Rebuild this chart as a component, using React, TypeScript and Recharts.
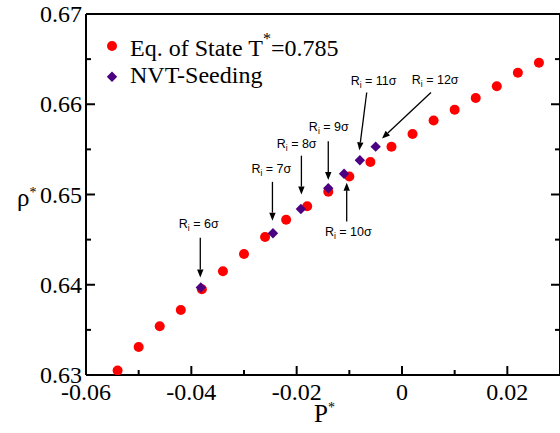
import React from 'react';
import {
  ScatterChart,
  Scatter,
  XAxis,
  YAxis,
  ReferenceLine,
  ReferenceDot,
  Legend,
} from 'recharts';

// equation of state, T* = 0.785
const eosP = [-0.054, -0.05, -0.046, -0.042, -0.038, -0.034, -0.03, -0.026, -0.022, -0.018, -0.014,
  -0.01, -0.006, -0.002, 0.002, 0.006, 0.01, 0.014, 0.018, 0.022, 0.026];
const eosRho = [0.6305, 0.6331, 0.6354, 0.6372, 0.6395, 0.6415, 0.6434, 0.6453, 0.6472, 0.6487, 0.6503,
  0.652, 0.6536, 0.6553, 0.6567, 0.6582, 0.6594, 0.6607, 0.662, 0.6635, 0.6646];

// NVT seeding runs, one per cluster radius
const seedR = [6, 7, 8, 9, 10, 11, 12];
const seedP = [-0.0382, -0.0245, -0.0192, -0.014, -0.011, -0.008, -0.005];
const seedRho = [0.6397, 0.6457, 0.6484, 0.6507, 0.6523, 0.6538, 0.6553];

// annotation label anchors and arrows, in data units
const labelP = [-0.0386, -0.0248, -0.02, -0.0139, -0.0102, -0.0054, 0.0063];
const labelRho = [0.6463, 0.6524, 0.6552, 0.657, 0.6454, 0.6621, 0.6622];
const arrowFromP = [-0.0383, -0.0246, -0.0191, -0.014, -0.0105, -0.0067, 0.0055];
const arrowFromRho = [0.6452, 0.6514, 0.6543, 0.6559, 0.647, 0.6613, 0.6613];
const arrowToP = [-0.0383, -0.0246, -0.0191, -0.014, -0.0105, -0.0081, -0.0038];
const arrowToRho = [0.6408, 0.6471, 0.65, 0.6516, 0.6513, 0.6549, 0.6562];

const xMajor = [-0.06, -0.04, -0.02, 0, 0.02];
const xMinor = [-0.05, -0.03, -0.01, 0.01, 0.03];
const yMajor = [0.63, 0.64, 0.65, 0.66, 0.67];
const yMinor = [0.635, 0.645, 0.655, 0.665];

const legendLabels = ['Eq. of State T', 'NVT-Seeding'];
const eosTemp = '=0.785';

const RED = '#ff0000';
const PURPLE = '#4b0082';
const SERIF = '"Liberation Serif", "Times New Roman", serif';
const SANS = '"Liberation Sans", Arial, sans-serif';

const eosData = eosP.map((p, i) => ({ p, rho: eosRho[i] }));
const seedData = seedP.map((p, i) => ({ p, rho: seedRho[i], r: seedR[i] }));

const xTicks = [...xMajor, ...xMinor];
const yTicks = [...yMajor, ...yMinor];

function RedDot(props: any) {
  return <circle cx={props.cx} cy={props.cy} r={5} fill={RED} />;
}

function Diamond(props: any) {
  const { cx, cy } = props;
  const s = 5.2;
  return <polygon points={`${cx},${cy - s} ${cx + s},${cy} ${cx},${cy + s} ${cx - s},${cy}`} fill={PURPLE} />;
}

function BottomTick(props: any) {
  const { x, y, payload } = props;
  const major = xMajor.includes(payload.value);
  return (
    <g>
      <line x1={x} y1={y} x2={x} y2={y - (major ? 9 : 5)} stroke="#000" strokeWidth={2} />
      {major && (
        <text x={x} y={y + 25} textAnchor="middle" fontSize={24} fontFamily={SERIF} fill="#000">
          {String(payload.value)}
        </text>
      )}
    </g>
  );
}

function TopTick(props: any) {
  const { x, y, payload } = props;
  const major = xMajor.includes(payload.value);
  return <line x1={x} y1={y} x2={x} y2={y + (major ? 9 : 5)} stroke="#000" strokeWidth={2} />;
}

function LeftTick(props: any) {
  const { x, y, payload } = props;
  const major = yMajor.includes(payload.value);
  return (
    <g>
      <line x1={x} y1={y} x2={x + (major ? 9 : 5)} y2={y} stroke="#000" strokeWidth={2} />
      {major && (
        <text x={x - 4} y={y + 8} textAnchor="end" fontSize={24} fontFamily={SERIF} fill="#000">
          {String(payload.value)}
        </text>
      )}
    </g>
  );
}

function RightTick(props: any) {
  const { x, y, payload } = props;
  const major = yMajor.includes(payload.value);
  return <line x1={x} y1={y} x2={x - (major ? 9 : 5)} y2={y} stroke="#000" strokeWidth={2} />;
}

function Arrow(props: any) {
  const { x1, y1, x2, y2 } = props;
  const len = Math.hypot(x2 - x1, y2 - y1) || 1;
  const ux = (x2 - x1) / len;
  const uy = (y2 - y1) / len;
  const bx = x2 - ux * 8;
  const by = y2 - uy * 8;
  const head = `${x2},${y2} ${bx - uy * 3.2},${by + ux * 3.2} ${bx + uy * 3.2},${by - ux * 3.2}`;
  return (
    <g>
      <line x1={x1} y1={y1} x2={bx} y2={by} stroke="#000" strokeWidth={1.3} />
      <polygon points={head} fill="#000" />
    </g>
  );
}

function radiusLabel(r: number) {
  return (props: any) => (
    <text x={props.cx} y={props.cy} textAnchor="middle" fontSize={12.5} fontFamily={SANS} fill="#000">
      R<tspan dy={3} fontSize={8.5}>i</tspan>
      <tspan dy={-3}>{` = ${r}\u03c3`}</tspan>
    </text>
  );
}

function LegendBox() {
  return (
    <svg width={560} height={100} style={{ display: 'block' }}>
      <circle cx={112} cy={46} r={5} fill={RED} />
      <text x={130} y={56} fontSize={24} fontFamily={SERIF} fill="#000">
        {legendLabels[0]}
        <tspan dy={-12} fontSize={16}>*</tspan>
        <tspan dy={12}>{eosTemp}</tspan>
      </text>
      <polygon points="112,71.5 117.2,76.7 112,81.9 106.8,76.7" fill={PURPLE} />
      <text x={130} y={83} fontSize={24} fontFamily={SERIF} fill="#000">{legendLabels[1]}</text>
    </svg>
  );
}

export default function App() {
  return (
    <div style={{ position: 'absolute', left: 0, top: 0, width: 560, height: 433, overflow: 'hidden', background: '#fff' }}>
      <ScatterChart width={570} height={433} margin={{ top: 13, right: 9, bottom: 0, left: 0 }}>
        <XAxis
          xAxisId="b"
          type="number"
          dataKey="p"
          domain={[-0.06, 0.03]}
          allowDataOverflow
          ticks={xTicks}
          interval={0}
          tickSize={0}
          tickMargin={0}
          tickLine={false}
          tick={<BottomTick />}
          axisLine={{ stroke: '#000', strokeWidth: 2 }}
          height={58}
          label={{
            content: () => (
              <text x={314} y={422} fontSize={25} fontFamily={SERIF} fill="#000">
                P<tspan dy={-10} fontSize={14}>*</tspan>
              </text>
            ),
          }}
        />
        <XAxis
          xAxisId="t"
          orientation="top"
          type="number"
          domain={[-0.06, 0.03]}
          allowDataOverflow
          ticks={xTicks}
          interval={0}
          tickSize={0}
          tickMargin={0}
          tickLine={false}
          tick={<TopTick />}
          axisLine={{ stroke: '#000', strokeWidth: 2 }}
          height={1}
        />
        <YAxis
          yAxisId="l"
          type="number"
          dataKey="rho"
          domain={[0.63, 0.67]}
          allowDataOverflow
          ticks={yTicks}
          interval={0}
          tickSize={0}
          tickMargin={0}
          tickLine={false}
          tick={<LeftTick />}
          axisLine={{ stroke: '#000', strokeWidth: 2 }}
          width={86}
          label={{
            content: () => (
              <text x={17} y={206} fontSize={25} fontFamily={SERIF} fill="#000">
                {'\u03c1'}<tspan dy={-9} fontSize={14}>*</tspan>
              </text>
            ),
          }}
        />
        <YAxis
          yAxisId="r"
          orientation="right"
          type="number"
          domain={[0.63, 0.67]}
          allowDataOverflow
          ticks={yTicks}
          interval={0}
          tickSize={0}
          tickMargin={0}
          tickLine={false}
          tick={<RightTick />}
          axisLine={{ stroke: '#000', strokeWidth: 2 }}
          width={1}
        />
        <Legend
          layout="vertical"
          align="center"
          verticalAlign="middle"
          wrapperStyle={{ left: 0, top: 0, width: 560, height: 100 }}
          content={() => <LegendBox />}
        />
        <Scatter
          name="Eq. of State T*=0.785"
          data={eosData}
          xAxisId="b"
          yAxisId="l"
          shape={<RedDot />}
          isAnimationActive={false}
        />
        <Scatter
          name="NVT-Seeding"
          data={seedData}
          xAxisId="b"
          yAxisId="l"
          shape={<Diamond />}
          isAnimationActive={false}
        />
        {seedR.map((r, i) => (
          <ReferenceLine
            key={`a${r}`}
            xAxisId="b"
            yAxisId="l"
            segment={[
              { x: arrowFromP[i], y: arrowFromRho[i] },
              { x: arrowToP[i], y: arrowToRho[i] },
            ]}
            shape={<Arrow />}
          />
        ))}
        {seedR.map((r, i) => (
          <ReferenceDot
            key={`l${r}`}
            xAxisId="b"
            yAxisId="l"
            x={labelP[i]}
            y={labelRho[i]}
            r={0}
            shape={radiusLabel(r)}
          />
        ))}
      </ScatterChart>
    </div>
  );
}
